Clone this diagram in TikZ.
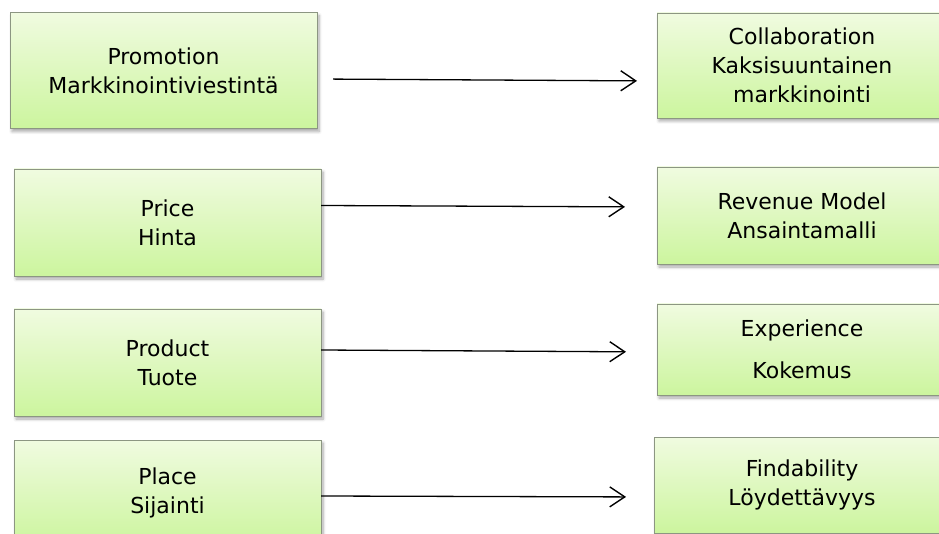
\documentclass[tikz,border=0pt]{standalone}
\usepackage{fontspec}
\setmainfont{DejaVu Sans}
\usetikzlibrary{arrows.meta,shadows.blur}
\definecolor{boxtop}{RGB}{240,251,224}
\definecolor{boxbot}{RGB}{204,245,158}
\definecolor{boxline}{RGB}{140,150,130}
\tikzset{
  mixbox/.style={draw=boxline, line width=0.8pt, top color=boxtop, bottom color=boxbot,
    outer sep=0pt, inner sep=0pt, align=center,
    font=\fontsize{22}{29}\selectfont,
    blur shadow={shadow xshift=2pt, shadow yshift=-3pt, shadow blur steps=6,
      shadow blur radius=3pt, shadow opacity=35}},
  link/.style={line width=1.3pt, -{Straight Barb[length=15pt,width=20pt,line width=1.4pt]}}
}
\begin{document}
\begin{tikzpicture}[x=1pt,y=-1pt]
\useasboundingbox (0,0) rectangle (939,534);
\clip (0,0) rectangle (939,534);

% classic marketing mix (left column)
\node[mixbox, minimum width=307pt, minimum height=116pt] (promo) at (163.5,70.5) {Promotion\\Markkinointiviestintä};
\node[mixbox, minimum width=307pt, minimum height=107pt] (price) at (167.5,222.5) {Price\\Hinta};
\node[mixbox, minimum width=307pt, minimum height=107pt] (product) at (167.5,362.5) {Product\\Tuote};
\node[mixbox, minimum width=307pt, minimum height=105pt] (place) at (167.5,492.5) {Place\\Sijainti};

% digital counterparts (right column)
\node[mixbox, minimum width=290pt, minimum height=105pt] (collab) at (802,65.5) {Collaboration\\Kaksisuuntainen\\markkinointi};
\node[mixbox, minimum width=290pt, minimum height=97pt] (revenue) at (802,215.5) {Revenue Model\\Ansaintamalli};
\node[mixbox, minimum width=290pt, minimum height=91pt] (exper) at (802,349.5) {Experience\\[13pt]Kokemus};
\node[mixbox, minimum width=296pt, minimum height=96pt] (find) at (802,485) {Findability\\Löydettävyys};

% mappings
\draw[link, shorten <=16pt, shorten >=20pt] ([yshift=-8.5pt]promo.east) -- ([yshift=-15.5pt]collab.west);
\draw[link, shorten >=32pt] ([yshift=17pt]price.east) -- ([yshift=8.5pt]revenue.west);
\draw[link, shorten >=31pt] ([yshift=12.5pt]product.east) -- ([yshift=-2.5pt]exper.west);
\draw[link, shorten >=28pt] ([yshift=-3.5pt]place.east) -- ([yshift=-12pt]find.west);
\end{tikzpicture}
\end{document}
